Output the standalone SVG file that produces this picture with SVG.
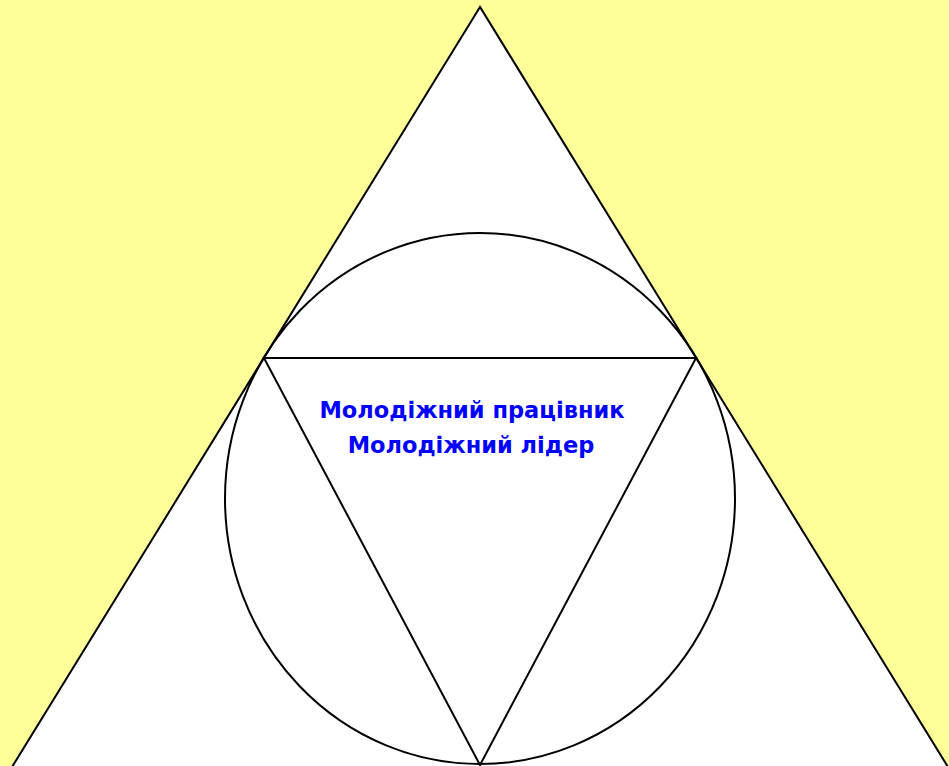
<svg xmlns="http://www.w3.org/2000/svg" width="949" height="766" viewBox="0 0 949 766">
<style>
.ln{fill:none;stroke:#000;stroke-width:2}
.t{font-family:"Comic Sans MS","DejaVu Sans",sans-serif;font-weight:bold;font-size:22.5px;fill:#0000FF;text-anchor:middle}
</style>
<rect width="949" height="766" fill="#FFFF99"/>
<g id="outer-triangle"><polygon points="480,7 12,767 948,767" fill="#FFFFFF" stroke="#000" stroke-width="2"/></g>
<g id="circle"><ellipse cx="480" cy="498.5" rx="255" ry="265.5" class="ln"/></g>
<g id="inner-triangle"><polygon points="264,358 696,358 480,765" class="ln"/></g>
<g id="label">
<text class="t" x="472" y="418">Молодіжний працівник</text>
<text class="t" x="471" y="453">Молодіжний лідер</text>
</g>
<g id="connectors"/>
</svg>
